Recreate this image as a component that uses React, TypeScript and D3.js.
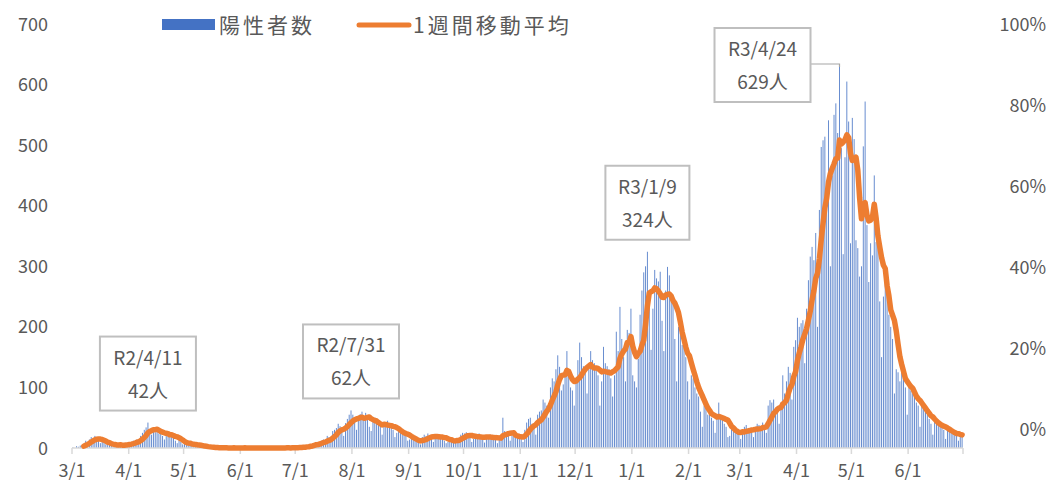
import React from "react";
import * as d3 from "d3";

// 兵庫県 陽性者数（日別）R2/3/1 〜 R3/6/30
const mar20 = [1, 0, 3, 2, 4, 5, 6, 12, 10, 14, 18, 15, 20, 12, 16, 8, 10, 9, 6, 5, 8, 4, 3, 6, 4, 5, 7, 4, 3, 6, 8];
const apr20 = [8, 9, 12, 10, 14, 11, 20, 25, 30, 34, 42, 28, 22, 30, 26, 34, 24, 28, 20, 14, 24, 22, 20, 25, 18, 12, 8, 14, 10, 6];
const may20 = [8, 6, 5, 7, 6, 4, 5, 4, 3, 2, 3, 1, 2, 1, 1, 0, 0, 1, 0, 0, 0, 1, 0, 0, 0, 0, 0, 1, 0, 0, 0];
const jun20 = [0, 0, 1, 0, 0, 0, 0, 0, 0, 0, 0, 0, 0, 1, 0, 0, 0, 0, 0, 0, 1, 0, 0, 0, 0, 1, 0, 0, 2, 0];
const jul20 = [1, 0, 2, 1, 3, 2, 4, 3, 5, 6, 8, 10, 5, 9, 12, 14, 10, 20, 18, 12, 28, 30, 33, 40, 36, 30, 20, 41, 48, 55, 62];
const aug20 = [55, 45, 30, 48, 56, 60, 50, 58, 52, 35, 28, 45, 50, 44, 40, 38, 22, 35, 42, 45, 40, 36, 30, 18, 25, 30, 28, 24, 22, 20, 12];
const sep20 = [14, 16, 15, 12, 10, 9, 6, 18, 22, 20, 24, 19, 18, 10, 20, 22, 18, 21, 17, 12, 8, 10, 12, 15, 11, 14, 16, 9, 22, 25];
const oct20 = [24, 26, 20, 18, 10, 15, 22, 20, 24, 18, 16, 9, 18, 21, 22, 19, 17, 14, 8, 16, 18, 50, 28, 24, 22, 12, 20, 19, 22, 20, 18];
const nov20 = [18, 10, 30, 42, 48, 50, 40, 36, 22, 55, 60, 62, 80, 75, 70, 50, 100, 115, 110, 130, 153, 134, 95, 105, 120, 160, 118, 100, 95, 70];
const dec20 = [110, 145, 174, 150, 135, 125, 90, 130, 160, 145, 140, 135, 120, 70, 110, 167, 140, 135, 130, 115, 85, 120, 192, 160, 233, 180, 150, 110, 195, 190, 230];
const jan21 = [120, 110, 100, 147, 220, 260, 290, 300, 324, 250, 162, 230, 294, 280, 275, 291, 210, 160, 260, 299, 285, 250, 240, 180, 110, 200, 190, 170, 165, 150, 110];
const feb21 = [80, 120, 115, 100, 90, 85, 60, 35, 70, 68, 55, 60, 50, 45, 25, 55, 75, 48, 52, 40, 35, 18, 20, 38, 30, 28, 25, 22];
const mar21 = [15, 30, 35, 38, 32, 30, 28, 18, 35, 40, 38, 35, 42, 30, 25, 70, 79, 75, 80, 60, 58, 40, 75, 120, 90, 110, 134, 124, 80, 167, 178];
const apr21 = [215, 200, 206, 211, 140, 230, 277, 316, 332, 310, 355, 200, 393, 497, 508, 514, 420, 541, 300, 450, 550, 569, 520, 629, 495, 320, 480, 605, 539, 338];
const may21 = [545, 510, 343, 330, 283, 300, 498, 572, 368, 274, 338, 318, 450, 340, 362, 242, 150, 250, 280, 255, 220, 200, 180, 90, 130, 125, 110, 130, 120, 100, 55];
const jun21 = [100, 95, 90, 85, 75, 70, 35, 70, 65, 60, 55, 48, 40, 22, 45, 42, 40, 38, 35, 30, 15, 32, 28, 26, 25, 22, 20, 12, 25, 22];

const dailyCases = [
  ...mar20, ...apr20, ...may20, ...jun20, ...jul20, ...aug20, ...sep20, ...oct20,
  ...nov20, ...dec20, ...jan21, ...feb21, ...mar21, ...apr21, ...may21, ...jun21,
];

const xTickLabels = ["3/1", "4/1", "5/1", "6/1", "7/1", "8/1", "9/1", "10/1", "11/1", "12/1", "1/1", "2/1", "3/1", "4/1", "5/1", "6/1"];
const leftTicks = [0, 100, 200, 300, 400, 500, 600, 700];
const rightTicks = [0, 0.2, 0.4, 0.6, 0.8, 1];

const calloutDates = ["2020-04-11", "2020-07-31", "2021-01-09", "2021-04-24"];
const calloutTitles = ["R2/4/11", "R2/7/31", "R3/1/9", "R3/4/24"];
const calloutCounts = ["42人", "62人", "324人", "629人"];

const FONT = "'Noto Sans CJK JP', 'Noto Sans', sans-serif";
const GRAY = "#595959";
const BLUE = "#4472C4";
const ORANGE = "#ED7D31";

const start = new Date(Date.UTC(2020, 2, 1));
const end = new Date(Date.UTC(2021, 6, 1));

export default function App() {
  const x = d3.scaleUtc().domain([start, end]).range([72, 963]);
  const y = d3.scaleLinear().domain([0, 700]).range([448, 24]);
  const y2 = d3.scaleLinear().domain([-0.045, 1]).range([448, 24]);
  const dayW = x(d3.utcDay.offset(start, 1)) - x(start);

  const days = dailyCases.map((v, i) => ({ date: d3.utcDay.offset(start, i), v }));
  // 1週間移動平均（7日間の後方平均）
  const avg = days
    .map((d, i) => (i < 6 ? null : { date: d.date, v: d3.mean(dailyCases.slice(i - 6, i + 1)) }))
    .filter(Boolean);

  const line = d3
    .line()
    .x(d => x(d.date) + dayW / 2)
    .y(d => y(d.v));

  const monthTicks = d3.range(17).map(i => d3.utcMonth.offset(start, i));
  const barW = 0.95;

  return (
    <svg width={1048} height={490} style={{ position: "absolute", left: 0, top: 0, background: "#fff" }} fontFamily={FONT}>
      {/* 棒 */}
      <g fill={BLUE} fillOpacity={0.85}>
        {days.map((d, i) => (
          <rect key={i} x={x(d.date) + dayW / 2 - barW / 2} y={y(d.v)} width={barW} height={y(0) - y(d.v)} />
        ))}
      </g>

      {/* 軸線と目盛 */}
      <line x1={x(start)} x2={x(end)} y1={y(0)} y2={y(0)} stroke="#d9d9d9" strokeWidth={1.5} />
      {monthTicks.map((t, i) => (
        <line key={i} x1={x(t)} x2={x(t)} y1={y(0)} y2={y(0) + 6} stroke="#d9d9d9" strokeWidth={1.5} />
      ))}
      {xTickLabels.map((lb, i) => (
        <text key={i} x={x(monthTicks[i])} y={477} textAnchor="middle" fontSize={18} fill={GRAY}>
          {lb}
        </text>
      ))}
      {leftTicks.map(t => (
        <text key={t} x={48} y={y(t) + 6.5} textAnchor="end" fontSize={18} fill={GRAY}>
          {t}
        </text>
      ))}
      {rightTicks.map(t => (
        <text key={t} x={1046} y={y2(t) + 6.5} textAnchor="end" fontSize={18} fill={GRAY}>
          {Math.round(t * 100) + "%"}
        </text>
      ))}

      {/* 移動平均 */}
      <path d={line(avg)} fill="none" stroke={ORANGE} strokeWidth={5.5} strokeLinejoin="round" strokeLinecap="round" />

      {/* 注記 */}
      {calloutDates.map((ds, i) => {
        const dt = new Date(ds + "T00:00:00Z");
        const idx = d3.utcDay.count(start, dt);
        const cx0 = x(dt) + dayW / 2;
        const top0 = y(dailyCases[idx]);
        const last = i === calloutDates.length - 1;
        const w = calloutTitles[i].length * 12 + 12;
        const h = 74;
        const cx = last ? cx0 - 77 : cx0;
        const top = last ? top0 - 39 : top0 - 86;
        return (
          <g key={ds}>
            {last && (
              <polyline
                points={`${cx + w / 2},${top + 36} ${cx0},${top + 36} ${cx0},${top0}`}
                fill="none"
                stroke="#a6a6a6"
                strokeWidth={1.2}
              />
            )}
            <rect x={cx - w / 2} y={top} width={w} height={h} fill="#fff" stroke="#bfbfbf" strokeWidth={2} />
            <text x={cx} y={top + 28} textAnchor="middle" fontSize={19} fill={GRAY}>
              {calloutTitles[i]}
            </text>
            <text x={cx} y={top + 61} textAnchor="middle" fontSize={19} fill={GRAY}>
              {calloutCounts[i]}
            </text>
          </g>
        );
      })}

      {/* 凡例 */}
      <rect x={162} y={19} width={53} height={11} fill={BLUE} />
      <text x={219} y={33} fontSize={21} letterSpacing={3} fill={GRAY}>
        陽性者数
      </text>
      <line x1={359} x2={409} y1={25} y2={25} stroke={ORANGE} strokeWidth={5} strokeLinecap="round" />
      <text x={413} y={33} fontSize={21} letterSpacing={3} fill={GRAY}>
        1週間移動平均
      </text>
    </svg>
  );
}
